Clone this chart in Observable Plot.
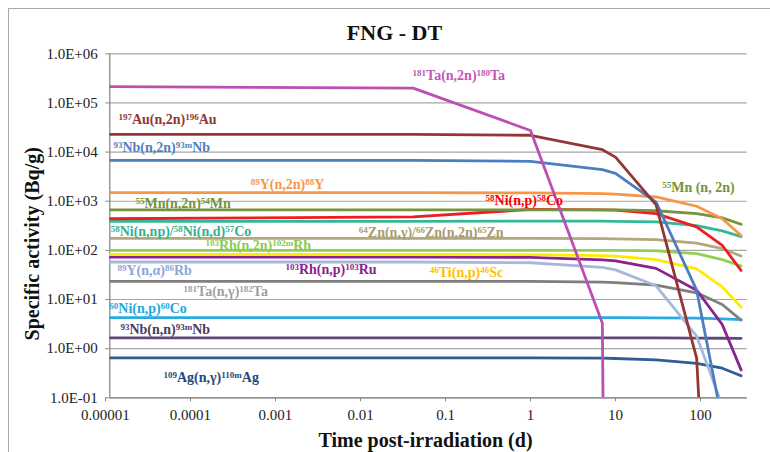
<!DOCTYPE html>
<html><head><meta charset="utf-8">
<script src="https://cdn.jsdelivr.net/npm/d3@7"></script>
<script src="https://cdn.jsdelivr.net/npm/@observablehq/plot@0.6"></script>
<style>
body{margin:0;background:#fff;}
#wrap{position:relative;width:770px;height:452px;overflow:hidden;}
#wrap svg{position:absolute;left:0;top:0;}
#frame{position:absolute;left:8px;top:8px;width:800px;height:500px;border-top:1.5px solid #a9a9a9;border-left:1.5px solid #a9a9a9;}
</style></head><body><div id="wrap"></div>
<script>
// time post-irradiation (d)
const times = [1e-5, 0.0417, 1, 7, 10, 30, 90, 180, 300];

// specific activity (Bq/g) per reaction
const ag110m  = [0.65, 0.65, 0.65, 0.64, 0.63, 0.59, 0.50, 0.40, 0.28];
const nb93mNN = [1.66, 1.66, 1.66, 1.66, 1.66, 1.65, 1.64, 1.63, 1.62];
const co60    = [4.3, 4.3, 4.3, 4.3, 4.3, 4.25, 4.2, 4.05, 3.9];
const ta182   = [23.5, 23.5, 23.5, 22.5, 22, 19.6, 13.7, 7.9, 3.8];
const rb86    = [58, 58, 56, 45, 40, 19, 1.8, 0.07, 1e-5];
const ru103   = [73, 73, 72, 64, 61, 43, 15.5, 3.1, 0.37];
const sc46    = [83, 83, 82, 78, 76, 65, 42, 18, 7];
const rh102m  = [100, 100, 100, 100, 100, 98, 86, 65, 48];
const zn65    = [175, 175, 175, 173, 172, 165, 140, 108, 77];
const co57    = [390, 390, 395, 395, 390, 380, 320, 250, 190];
const co58    = [440, 480, 680, 670, 660, 560, 300, 127, 39];
const mn54    = [670, 670, 670, 670, 670, 640, 560, 460, 340];
const y88     = [1500, 1500, 1480, 1430, 1400, 1220, 790, 440, 200];
const nb93m   = [6800, 6800, 6500, 4400, 3700, 960, 15.5, 0.033, 1e-5];
const au196   = [23000, 23000, 22000, 11200, 7900, 840, 0.64, 1e-10, null];
const ta180   = [216000, 200000, 27500, 3.3, 1e-30, null, null, null, null];

const seriesNames  = ["109Ag(n,g)110mAg","93Nb(n,n)93mNb","60Ni(n,p)60Co","181Ta(n,g)182Ta","89Y(n,a)86Rb","103Rh(n,p)103Ru","46Ti(n,p)46Sc","103Rh(n,2n)102mRh","Zn65","Co57","Co58","Mn54","Y88","Nb93m","Au196","Ta180"];
const seriesValues = [ag110m, nb93mNN, co60, ta182, rb86, ru103, sc46, rh102m, zn65, co57, co58, mn54, y88, nb93m, au196, ta180];
const seriesColors = ["#2F5E95","#5F497A","#29ABE2","#7F7F7F","#A7B8DA","#8C2290","#FFEB00","#92D050","#B3A77E","#33B894","#EE1C25","#77933C","#F79646","#4A7EC0","#943634","#BB4FB2"];

// in-plot labels
const labelText = [
  "^{181}Ta(n,2n)^{180}Ta",
  "^{197}Au(n,2n)^{196}Au",
  "^{93}Nb(n,2n)^{93m}Nb",
  "^{89}Y(n,2n)^{88}Y",
  "^{55}Mn(n,2n)^{54}Mn",
  "^{58}Ni(n,np)/^{58}Ni(n,d)^{57}Co",
  "^{64}Zn(n,γ)/^{66}Zn(n,2n)^{65}Zn",
  "^{103}Rh(n,2n)^{102m}Rh",
  "^{89}Y(n,α)^{86}Rb",
  "^{103}Rh(n,p)^{103}Ru",
  "^{46}Ti(n,p)^{46}Sc",
  "^{181}Ta(n,γ)^{182}Ta",
  "^{60}Ni(n,p)^{60}Co",
  "^{93}Nb(n,n)^{93m}Nb",
  "^{109}Ag(n,γ)^{110m}Ag",
  "^{58}Ni(n,p)^{58}Co",
  "^{55}Mn (n, 2n)"
];
const labelT = [0.041, 1.42e-5, 1.24e-5, 5.1e-4, 2.25e-5, 1.15e-5, 9.55e-3, 1.5e-4, 1.38e-5, 1.31e-3, 0.0653, 8.3e-5, 1.11e-5, 1.5e-5, 4.81e-5, 0.296, 35.4];
const labelV = [3.6e5, 4.5e4, 1.26e4, 2.24e3, 9.06e2, 2.39e2, 2.31e2, 1.24e2, 38.5, 40.9, 35, 14.5, 6.44, 2.41, 0.261, 1.03e3, 1.94e3];
const labelColor = ["#C257B6","#943634","#4F81BD","#F79646","#77933C","#2FB38F","#A89C72","#8CCB4A","#8EA5D6","#8C2290","#FFC000","#A0A0A0","#22A7E0","#4B3B63","#1F497D","#FF0000","#77933C"];

// axes
const xTicks = [1e-5, 1e-4, 1e-3, 1e-2, 0.1, 1, 10, 100];
const xTickLabels = ["0.00001","0.0001","0.001","0.01","0.1","1","10","100"];
const yTicks = [0.1, 1, 10, 100, 1e3, 1e4, 1e5, 1e6];
const yTickLabels = ["1.0E-01","1.0E+00","1.0E+01","1.0E+02","1.0E+03","1.0E+04","1.0E+05","1.0E+06"];
const xMin = 1.124e-5, xMax = 354;

const rows = [];
seriesNames.forEach((name, s) => {
  times.forEach((t, i) => {
    const v = seriesValues[s][i];
    if (v != null) rows.push({series: name, t, v, color: seriesColors[s]});
  });
});

const svg = Plot.plot({
  width: 770, height: 452,
  marginTop: 53.3, marginRight: 23.3, marginBottom: 54.7, marginLeft: 109.3,
  style: {fontFamily: "'Liberation Serif', 'Times New Roman', serif", fontSize: "15px", background: "transparent", color: "#222"},
  x: {type: "log", domain: [xMin, xMax], axis: null},
  y: {type: "log", domain: [0.1, 1e6], axis: null},
  color: {type: "identity"},
  marks: [
    Plot.gridY(yTicks, {stroke: "#a6a6a6", strokeOpacity: 1, strokeWidth: 1.2}),
    Plot.ruleX([xMin], {stroke: "#8a8a8a", strokeWidth: 1.3}),
    Plot.ruleY([0.1], {stroke: "#8a8a8a", strokeWidth: 1.3}),
    Plot.axisY(yTicks, {tickFormat: d => yTickLabels[yTicks.indexOf(d)], tickSize: 4, tickPadding: 8, stroke: "#8a8a8a", fill: "#222", label: null, fontSize: 15}),
    Plot.axisX(xTicks, {tickFormat: d => xTickLabels[xTicks.indexOf(d)], tickSize: 4, tickPadding: 8, stroke: "#8a8a8a", fill: "#222", label: null, fontSize: 15}),
    Plot.line(rows, {x: "t", y: "v", z: "series", stroke: "color", strokeWidth: 2.8, clip: true, curve: "linear"}),
    Plot.text(labelText, {x: (d, i) => labelT[i], y: (d, i) => labelV[i], text: d => d, fill: (d, i) => labelColor[i], textAnchor: "start", lineAnchor: "middle", fontSize: 14, fontWeight: "bold"}),
    Plot.text(["FNG - DT"], {frameAnchor: "top", dx: -34, dy: -20.4, lineAnchor: "middle", fontSize: 22, fontWeight: "bold", fill: "#111"}),
    Plot.text(["Time post-irradiation (d)"], {frameAnchor: "bottom", dx: -3, dy: 42.7, lineAnchor: "middle", fontSize: 20, fontWeight: "bold", fill: "#111"}),
    Plot.text(["Specific activity (Bq/g)"], {frameAnchor: "left", textAnchor: "middle", rotate: -90, dx: -77.6, dy: 18, lineAnchor: "middle", fontSize: 20, fontWeight: "bold", fill: "#111"})
  ]
});

// superscripts
svg.querySelectorAll("text").forEach(t => {
  const s = t.textContent;
  if (!s.includes("^{")) return;
  t.textContent = "";
  let raised = false;
  for (const p of s.split(/(\^\{[^}]*\})/)) {
    if (!p) continue;
    const ts = document.createElementNS("http://www.w3.org/2000/svg", "tspan");
    if (p.startsWith("^{")) {
      ts.textContent = p.slice(2, -1);
      ts.setAttribute("font-size", "9");
      if (!raised) { ts.setAttribute("dy", "-4"); raised = true; }
    } else {
      ts.textContent = p;
      if (raised) { ts.setAttribute("dy", "4"); raised = false; }
    }
    t.appendChild(ts);
  }
});

const wrap = document.getElementById("wrap");
wrap.appendChild(svg);
const frame = document.createElement("div");
frame.id = "frame";
wrap.appendChild(frame);
</script></body></html>
